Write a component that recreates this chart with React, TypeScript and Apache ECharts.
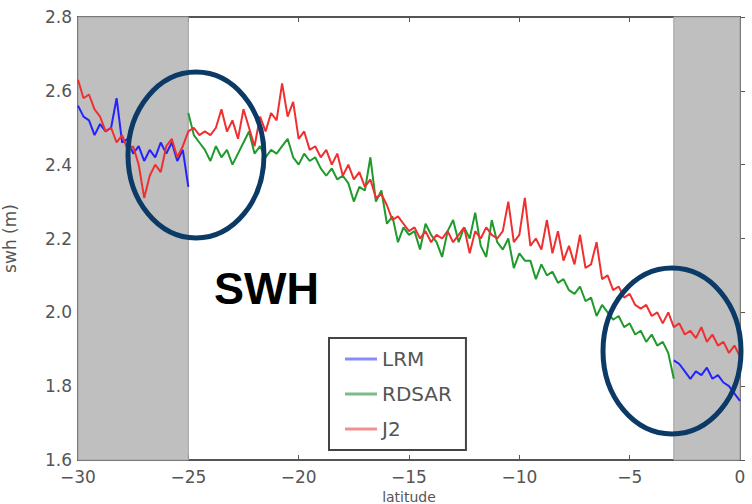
import React, { useEffect, useRef } from "react";
import * as echarts from "echarts";

// [latitude, swh]
const LRM_SOUTH: [number, number][] = [
  [-30, 2.56], [-29.75, 2.53], [-29.5, 2.52], [-29.25, 2.48], [-29, 2.51], [-28.75, 2.49],
  [-28.5, 2.5], [-28.25, 2.58], [-28, 2.46], [-27.75, 2.47], [-27.5, 2.43], [-27.25, 2.45],
  [-27, 2.41], [-26.75, 2.44], [-26.5, 2.42], [-26.25, 2.46], [-26, 2.43], [-25.75, 2.46],
  [-25.5, 2.41], [-25.25, 2.44], [-25, 2.34],
];
const LRM_NORTH: [number, number][] = [
  [-3, 1.87], [-2.75, 1.86], [-2.5, 1.84], [-2.25, 1.82], [-2, 1.84], [-1.75, 1.83],
  [-1.5, 1.85], [-1.25, 1.82], [-1, 1.83], [-0.75, 1.81], [-0.5, 1.8], [-0.25, 1.78], [0, 1.76],
];
const RDSAR: [number, number][] = [
  [-25, 2.54], [-24.75, 2.48], [-24.5, 2.46], [-24.25, 2.44], [-24, 2.41], [-23.75, 2.45],
  [-23.5, 2.42], [-23.25, 2.44], [-23, 2.4], [-22.75, 2.43], [-22.5, 2.46], [-22.25, 2.49],
  [-22, 2.43], [-21.75, 2.45], [-21.5, 2.42], [-21.25, 2.44], [-21, 2.43], [-20.75, 2.45],
  [-20.5, 2.47], [-20.25, 2.42], [-20, 2.4], [-19.75, 2.43], [-19.5, 2.41], [-19.25, 2.42],
  [-19, 2.39], [-18.75, 2.37], [-18.5, 2.39], [-18.25, 2.36], [-18, 2.37], [-17.75, 2.35],
  [-17.5, 2.3], [-17.25, 2.34], [-17, 2.33], [-16.75, 2.42], [-16.5, 2.3], [-16.25, 2.33],
  [-16, 2.24], [-15.75, 2.26], [-15.5, 2.19], [-15.25, 2.23], [-15, 2.21], [-14.75, 2.22],
  [-14.5, 2.17], [-14.25, 2.24], [-14, 2.21], [-13.75, 2.19], [-13.5, 2.15], [-13.25, 2.22],
  [-13, 2.25], [-12.75, 2.19], [-12.5, 2.23], [-12.25, 2.2], [-12, 2.27], [-11.75, 2.18],
  [-11.5, 2.15], [-11.25, 2.25], [-11, 2.19], [-10.75, 2.17], [-10.5, 2.2], [-10.25, 2.12],
  [-10, 2.16], [-9.75, 2.14], [-9.5, 2.14], [-9.25, 2.09], [-9, 2.13], [-8.75, 2.1],
  [-8.5, 2.11], [-8.25, 2.08], [-8, 2.09], [-7.75, 2.06], [-7.5, 2.05], [-7.25, 2.07],
  [-7, 2.03], [-6.75, 2.04], [-6.5, 1.99], [-6.25, 2.02], [-6, 2.0], [-5.75, 1.98],
  [-5.5, 1.99], [-5.25, 1.96], [-5, 1.97], [-4.75, 1.94], [-4.5, 1.95], [-4.25, 1.92],
  [-4, 1.94], [-3.75, 1.91], [-3.5, 1.92], [-3.25, 1.89], [-3, 1.82],
];
const J2: [number, number][] = [
  [-30, 2.63], [-29.75, 2.58], [-29.5, 2.59], [-29.25, 2.55], [-29, 2.53], [-28.75, 2.49],
  [-28.5, 2.5], [-28.25, 2.46], [-28, 2.48], [-27.75, 2.44], [-27.5, 2.45], [-27.25, 2.4],
  [-27, 2.31], [-26.75, 2.37], [-26.5, 2.4], [-26.25, 2.38], [-26, 2.45], [-25.75, 2.47],
  [-25.5, 2.42], [-25.25, 2.45], [-25, 2.49], [-24.75, 2.5], [-24.5, 2.48], [-24.25, 2.49],
  [-24, 2.48], [-23.75, 2.5], [-23.5, 2.55], [-23.25, 2.49], [-23, 2.52], [-22.75, 2.47],
  [-22.5, 2.55], [-22.25, 2.5], [-22, 2.45], [-21.75, 2.53], [-21.5, 2.49], [-21.25, 2.54],
  [-21, 2.52], [-20.75, 2.62], [-20.5, 2.53], [-20.25, 2.57], [-20, 2.47], [-19.75, 2.49],
  [-19.5, 2.44], [-19.25, 2.45], [-19, 2.42], [-18.75, 2.44], [-18.5, 2.4], [-18.25, 2.43],
  [-18, 2.37], [-17.75, 2.4], [-17.5, 2.36], [-17.25, 2.38], [-17, 2.34], [-16.75, 2.36],
  [-16.5, 2.31], [-16.25, 2.32], [-16, 2.29], [-15.75, 2.25], [-15.5, 2.26], [-15.25, 2.24],
  [-15, 2.22], [-14.75, 2.23], [-14.5, 2.2], [-14.25, 2.22], [-14, 2.19], [-13.75, 2.21],
  [-13.5, 2.2], [-13.25, 2.22], [-13, 2.19], [-12.75, 2.21], [-12.5, 2.23], [-12.25, 2.16],
  [-12, 2.22], [-11.75, 2.2], [-11.5, 2.23], [-11.25, 2.21], [-11, 2.2], [-10.75, 2.22],
  [-10.5, 2.3], [-10.25, 2.19], [-10, 2.21], [-9.75, 2.31], [-9.5, 2.18], [-9.25, 2.2],
  [-9, 2.17], [-8.75, 2.25], [-8.5, 2.16], [-8.25, 2.22], [-8, 2.14], [-7.75, 2.18],
  [-7.5, 2.13], [-7.25, 2.21], [-7, 2.12], [-6.75, 2.13], [-6.5, 2.19], [-6.25, 2.09],
  [-6, 2.1], [-5.75, 2.06], [-5.5, 2.07], [-5.25, 2.04], [-5, 2.05], [-4.75, 2.02],
  [-4.5, 2.01], [-4.25, 2.02], [-4, 1.99], [-3.75, 2.0], [-3.5, 1.97], [-3.25, 2.0],
  [-3, 1.96], [-2.75, 1.97], [-2.5, 1.94], [-2.25, 1.95], [-2, 1.93], [-1.75, 1.96],
  [-1.5, 1.92], [-1.25, 1.94], [-1, 1.91], [-0.75, 1.92], [-0.5, 1.89], [-0.25, 1.91], [0, 1.88],
];
const SHADED_BANDS: [number, number][] = [[-30, -25], [-3, 0]];
const SERIES_NAMES = ["LRM", "RDSAR", "J2"];
const X_MIN = -30, X_MAX = 0, X_STEP = 5;
const Y_MIN = 1.6, Y_MAX = 2.8, Y_STEP = 0.2;

const TXT = "#555";
const FONT = "DejaVu Sans";
const minus = (v: number) => String(v).replace("-", "\u2212");

export default function App() {
  const ref = useRef<HTMLDivElement>(null);
  useEffect(() => {
    if (!ref.current) return;
    const chart = echarts.init(ref.current, undefined, { renderer: "svg" });
    const tickStyle = { inside: true, length: 5, lineStyle: { color: "#555", width: 1 } };
    chart.setOption({
      animation: false,
      backgroundColor: "#fff",
      textStyle: { fontFamily: FONT },
      grid: {
        left: 78, top: 17, right: 12, bottom: 44, show: true,
        borderColor: "#555", borderWidth: 2, backgroundColor: "transparent",
        containLabel: false, outerBoundsMode: "none",
      },
      legend: {
        data: SERIES_NAMES.map((n, i) => ({
          name: n,
          icon: "rect",
          itemStyle: { color: ["#8a8aff", "#7fb98a", "#f29090"][i] },
        })),
        orient: "vertical",
        left: 329,
        top: 338,
        padding: [10, 14, 10, 16],
        itemWidth: 32,
        itemHeight: 3,
        itemGap: 13,
        itemTextGap: 22,
        backgroundColor: "#fff",
        borderColor: "#444",
        borderWidth: 2,
        borderRadius: 0,
        textStyle: { fontSize: 20, color: TXT, fontFamily: FONT, lineHeight: 22 },
        z: 10,
      },
      xAxis: [
        {
          type: "value", min: X_MIN, max: X_MAX, interval: X_STEP,
          name: "latitude", nameLocation: "middle", nameGap: 26,
          nameTextStyle: { fontSize: 14, lineHeight: 14, color: TXT, fontFamily: FONT },
          axisLine: { show: false }, splitLine: { show: false },
          axisTick: tickStyle,
          axisLabel: { fontSize: 17, lineHeight: 17, color: TXT, margin: 8, formatter: (v: number) => minus(v), fontFamily: FONT },
        },
        {
          type: "value", min: X_MIN, max: X_MAX, interval: X_STEP, position: "top",
          axisLine: { show: false }, splitLine: { show: false }, axisTick: tickStyle, axisLabel: { show: false },
        },
      ],
      yAxis: [
        {
          type: "value", min: Y_MIN, max: Y_MAX, interval: Y_STEP,
          name: "swh (m)", nameLocation: "middle", nameGap: 60, nameRotate: 90,
          nameTextStyle: { fontSize: 17, color: TXT, fontFamily: FONT },
          axisLine: { show: false }, splitLine: { show: false },
          axisTick: tickStyle,
          axisLabel: { fontSize: 17, lineHeight: 16, color: TXT, margin: 6, formatter: (v: number) => v.toFixed(1), fontFamily: FONT },
        },
        {
          type: "value", min: Y_MIN, max: Y_MAX, interval: Y_STEP, position: "right",
          axisLine: { show: false }, splitLine: { show: false }, axisTick: tickStyle, axisLabel: { show: false },
        },
      ],
      series: [
        {
          name: "bands", type: "line", data: [], z: 1, silent: true,
          markArea: {
            silent: true,
            itemStyle: { color: "#bfbfbf", borderColor: "#a0a0a0", borderWidth: 1 },
            data: SHADED_BANDS.map(([a, b]) => [{ xAxis: a }, { xAxis: b }]),
          },
        },
        { name: "LRM", type: "line", data: LRM_SOUTH, showSymbol: false, z: 3, lineStyle: { color: "#2323ff", width: 2 }, itemStyle: { color: "#2323ff" } },
        { name: "LRM", type: "line", data: LRM_NORTH, showSymbol: false, z: 3, lineStyle: { color: "#2323ff", width: 2 }, itemStyle: { color: "#2323ff" } },
        { name: "RDSAR", type: "line", data: RDSAR, showSymbol: false, z: 3, lineStyle: { color: "#1f9a2c", width: 2 }, itemStyle: { color: "#1f9a2c" } },
        { name: "J2", type: "line", data: J2, showSymbol: false, z: 4, lineStyle: { color: "#f03030", width: 2 }, itemStyle: { color: "#f03030" } },
      ],
      graphic: [
        { type: "ellipse", shape: { cx: 196, cy: 155, rx: 68, ry: 83 }, style: { fill: "none", stroke: "#0c3a66", lineWidth: 5 }, z: 100 },
        { type: "ellipse", shape: { cx: 672, cy: 351, rx: 69, ry: 83 }, style: { fill: "none", stroke: "#0c3a66", lineWidth: 5 }, z: 100 },
        { type: "text", left: 214, top: 266, style: { text: "SWH", fontSize: 45, fontWeight: "bold", fontFamily: "Liberation Sans", fill: "#000" }, z: 100 },
      ],
    });
    return () => chart.dispose();
  }, []);
  return <div ref={ref} style={{ position: "fixed", left: 0, top: 0, width: 752, height: 504 }} />;
}
